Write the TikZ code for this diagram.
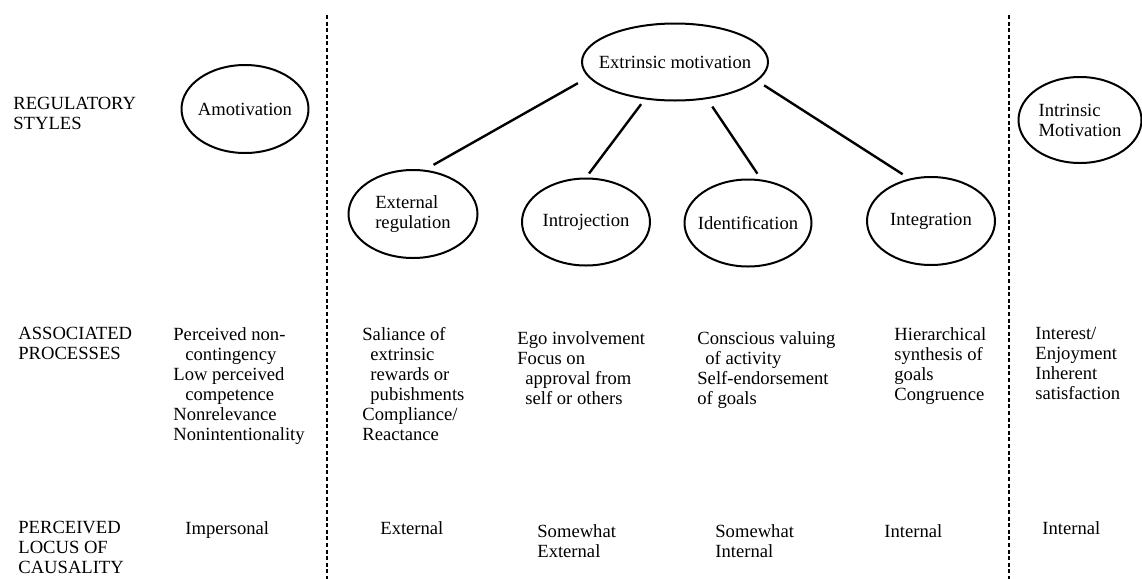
\documentclass[tikz,border=0pt]{standalone}
\usepackage{fontspec}
\setmainfont{Liberation Serif}
\usetikzlibrary{shapes.geometric}

\newcommand{\diagfont}{\fontsize{9.3}{10}\selectfont}

\begin{document}
\begin{tikzpicture}[x=0.5pt, y=-0.5pt, line join=round,
  style/.style={ellipse, draw, line width=1pt, inner xsep=-6pt, inner ysep=0pt, align=left, font=\diagfont},
  info/.style={anchor=north west, inner sep=0pt, align=left, font=\diagfont},
  link/.style={line width=1.2pt},
  divider/.style={line width=0.9pt, dash pattern=on 2pt off 1.3pt}]
  \useasboundingbox (0,0) rectangle (1142,579);

  % ========================================================
  % 0. DIVIDERS BETWEEN THE THREE GROUPS
  % ========================================================
  \coordinate (D1top) at (327,15);
  \coordinate (D1bot) at (327,579);
  \coordinate (D2top) at (1009,15);
  \coordinate (D2bot) at (1009,579);
  \draw[divider] (D1top) -- (D1bot);
  \draw[divider] (D2top) -- (D2bot);

  % ========================================================
  % 1. REGULATORY STYLES (ellipses)
  % ========================================================
  \node[style, minimum width=63.5pt, minimum height=44pt] (Amot) at (245,109) {Amotivation};
  \node[style, minimum width=93pt, minimum height=38.5pt] (Ext) at (675,62) {Extrinsic motivation};
  \node[style, minimum width=64.5pt, minimum height=44pt] (ExtReg) at (413,214) {External\\regulation};
  \node[style, minimum width=64pt, minimum height=43.5pt] (Intro) at (586,222) {Introjection};
  \node[style, minimum width=63.5pt, minimum height=43.5pt] (Ident) at (748,223) {Identification};
  \node[style, minimum width=64pt, minimum height=44pt] (Integ) at (931,221) {Integration};
  \node[style, minimum width=61.5pt, minimum height=43pt] (Intr) at (1080,120) {Intrinsic\\Motivation};

  % extrinsic motivation splits into four
  \draw[link, shorten <=6pt, shorten >=5pt] (Ext.190) -- (ExtReg.75);
  \draw[link, shorten <=3pt, shorten >=2.5pt] (Ext.231) -- (Intro.north);
  \draw[link, shorten <=4.5pt, shorten >=3.5pt] (Ext.311) -- (Ident.73);
  \draw[link, shorten <=4pt, shorten >=4pt] (Ext.347) -- (Integ.117);

  % ========================================================
  % 2. ROW LABELS (Left Side)
  % ========================================================
  \node[info] (RowStyles) at (13,97) {REGULATORY\\STYLES};
  \node[info] (RowProc) at (18,327) {ASSOCIATED\\PROCESSES};
  \node[info] (RowLocus) at (18,521) {PERCEIVED\\LOCUS OF\\CAUSALITY};

  % ========================================================
  % 3. ASSOCIATED PROCESSES
  % ========================================================
  \node[info] (AmotProc) at (173,327) {Perceived non-\\\hspace*{6pt}contingency\\Low perceived\\\hspace*{6pt}competence\\Nonrelevance\\Nonintentionality};
  \node[info] (ExtRegProc) at (362,327) {Saliance of\\\hspace*{4pt}extrinsic\\\hspace*{4pt}rewards or\\\hspace*{4pt}pubishments\\Compliance/\\Reactance};
  \node[info] (IntroProc) at (517,331) {Ego involvement\\Focus on\\\hspace*{4pt}approval from\\\hspace*{4pt}self or others};
  \node[info] (IdentProc) at (697,331) {Conscious valuing\\\hspace*{4pt}of activity\\Self-endorsement\\of goals};
  \node[info] (IntegProc) at (894,327) {Hierarchical\\synthesis of\\goals\\Congruence};
  \node[info] (IntrProc) at (1035,327) {Interest/\\Enjoyment\\Inherent\\satisfaction};

  % ========================================================
  % 4. PERCEIVED LOCUS OF CAUSALITY
  % ========================================================
  \node[info] (AmotLoc) at (185,521) {Impersonal};
  \node[info] (ExtRegLoc) at (380,521) {External};
  \node[info] (IntroLoc) at (537,524) {Somewhat\\External};
  \node[info] (IdentLoc) at (715,524) {Somewhat\\Internal};
  \node[info] (IntegLoc) at (884,524) {Internal};
  \node[info] (IntrLoc) at (1042,521) {Internal};

\end{tikzpicture}
\end{document}
